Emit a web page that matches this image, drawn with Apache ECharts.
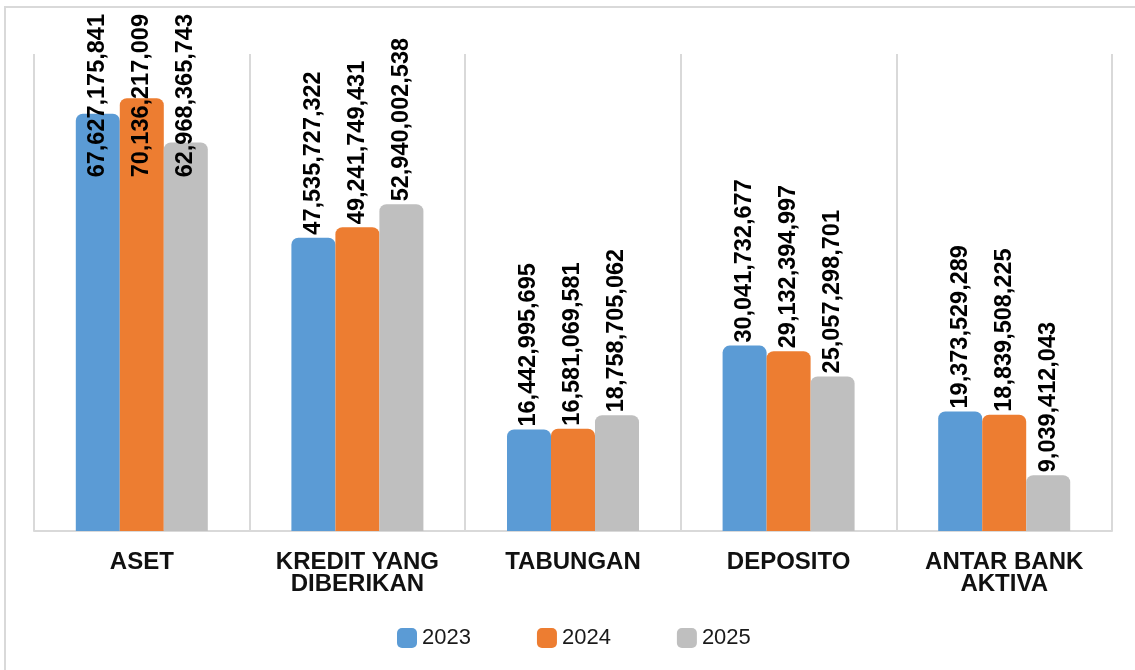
<!DOCTYPE html>
<html>
<head>
<meta charset="utf-8">
<script src="https://cdn.jsdelivr.net/npm/echarts@6/dist/echarts.min.js"></script>
<style>
  html, body { margin: 0; padding: 0; background: #fff; }
  #chart { width: 1135px; height: 670px; }
</style>
</head>
<body>
<div id="chart"></div>
<script>
var categories = ['ASET', 'KREDIT YANG\nDIBERIKAN', 'TABUNGAN', 'DEPOSITO', 'ANTAR BANK\nAKTIVA'];
var years = ['2023', '2024', '2025'];
var values2023 = [67627175841, 47535727322, 16442995695, 30041732677, 19373529289];
var values2024 = [70136217009, 49241749431, 16581069581, 29132394997, 18839508225];
var values2025 = [62968365743, 52940002538, 18758705062, 25057298701, 9039412043];
var colors = ['#5b9bd5', '#ed7d31', '#bfbfbf'];

var FONT = "'Liberation Sans', Arial, sans-serif";
var LABEL_TOP = 14; // labels may not go above this line

function makeSeries(name, data, color) {
    return {
        name: name,
        type: 'bar',
        data: data,
        barWidth: 44,
        barGap: '0%',
        itemStyle: { color: color, borderRadius: [7, 7, 0, 0] },
        label: {
            show: true,
            position: 'top',
            distance: 3,
            rotate: 90,
            align: 'left',
            verticalAlign: 'middle',
            color: '#000',
            fontFamily: FONT,
            fontWeight: 'bold',
            fontSize: 23.5,
            formatter: function (p) {
                return p.value.toLocaleString('en-US');
            }
        },
        // tall bars: push the label back down into the chart (dx runs along the rotated text)
        labelLayout: function (params) {
            if (params.labelRect.y < LABEL_TOP) {
                return { dx: params.labelRect.y - LABEL_TOP };
            }
        }
    };
}

var chart = echarts.init(document.getElementById('chart'));
var option = {
    backgroundColor: '#fff',
    animation: false,
    graphic: [{
        type: 'rect',
        shape: { x: 5, y: 7, width: 1140, height: 680 },
        style: { fill: 'none', stroke: '#d9d9d9', lineWidth: 2 },
        silent: true
    }],
    grid: { left: 34, right: 23, top: 54, bottom: 139 },
    legend: {
        data: years,
        left: 392,
        top: 622,
        itemWidth: 20,
        itemHeight: 20,
        itemGap: 66,
        icon: 'roundRect',
        textStyle: { fontFamily: FONT, fontSize: 22, color: '#1a1a1a' }
    },
    xAxis: {
        type: 'category',
        data: categories,
        axisLine: { lineStyle: { color: '#d9d9d9', width: 2 } },
        axisTick: { show: false },
        splitLine: { show: true, lineStyle: { color: '#d9d9d9', width: 2 } },
        axisLabel: {
            interval: 0,
            margin: 20,
            color: '#111',
            fontFamily: FONT,
            fontWeight: 'bold',
            fontSize: 24,
            lineHeight: 22
        }
    },
    yAxis: {
        type: 'value',
        min: 0,
        max: 77300000000,
        axisLabel: { show: false },
        axisLine: { show: false },
        axisTick: { show: false },
        splitLine: { show: false }
    },
    series: [
        makeSeries(years[0], values2023, colors[0]),
        makeSeries(years[1], values2024, colors[1]),
        makeSeries(years[2], values2025, colors[2])
    ]
};
chart.setOption(option);
</script>
</body>
</html>
